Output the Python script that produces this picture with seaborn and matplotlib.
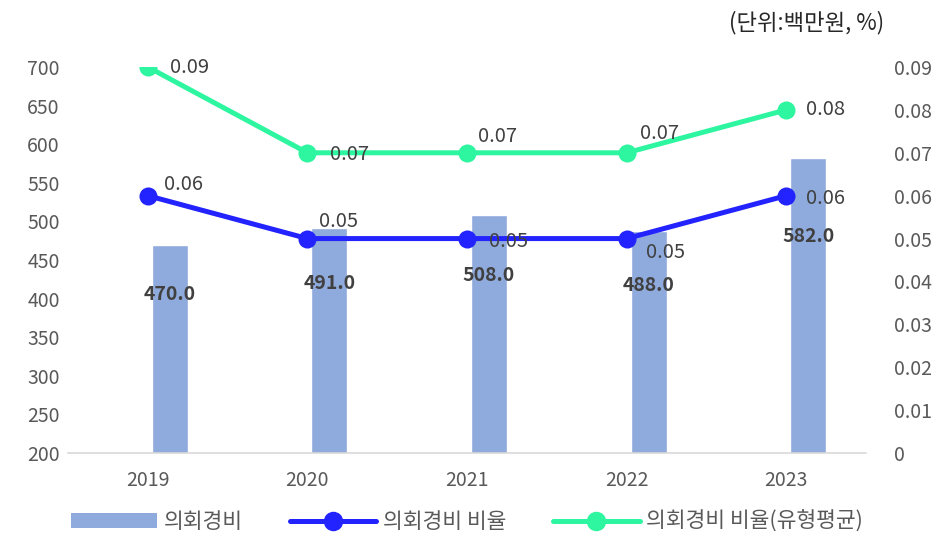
import numpy as np
import pandas as pd
import matplotlib
matplotlib.use("Agg")
import matplotlib.pyplot as plt
import seaborn as sns
from matplotlib.lines import Line2D
from matplotlib.patches import Patch

# chart data
years = ["2019", "2020", "2021", "2022", "2023"]
cost = [470.0, 491.0, 508.0, 488.0, 582.0]          # 의회경비 (백만원)
ratio = [0.06, 0.05, 0.05, 0.05, 0.06]              # 의회경비 비율
ratio_avg = [0.09, 0.07, 0.07, 0.07, 0.08]          # 의회경비 비율(유형평균)

sns.set_style("white")
plt.rcParams["font.family"] = ["Noto Sans CJK KR", "DejaVu Sans"]

BAR = "#8FAADC"
BLUE = "#2323FF"
GREEN = "#2EF5A0"
TXT = "#595959"

fig = plt.figure(figsize=(9.34, 5.37), dpi=100)
ax = fig.add_axes([0.0728, 0.1564, 0.8544, 0.7188])

# empty first series keeps the bars on the right half of each slot, like the original
df = pd.DataFrame({
    "year": years * 2,
    "value": [0.0] * len(years) + cost,
    "series": ["blank"] * len(years) + ["의회경비"] * len(years),
})
sns.barplot(data=df, x="year", y="value", hue="series", palette=["#FFFFFF", BAR],
            saturation=1, width=0.55, gap=0.18, legend=False, ax=ax)
ax.set_ylim(200, 700)
ax.set_xlim(-0.5, 4.5)
ax.set_yticks(range(200, 701, 50))
ax.set_xlabel("")
ax.set_ylabel("")
for s in ["top", "right", "left"]:
    ax.spines[s].set_visible(False)
ax.spines["bottom"].set_color("#D9D9D9")
ax.spines["bottom"].set_linewidth(1.2)
ax.tick_params(axis="both", length=0, labelsize=14, colors=TXT)
ax.tick_params(axis="x", pad=12)
ax.tick_params(axis="y", pad=6)

# bar labels (bold, inside bar)
for i, v in enumerate(cost):
    ax.text(i + 0.1375, 0.67 * v + 90, f"{v:.1f}", ha="center", va="center",
            fontsize=14, fontweight="bold", color="#404040", zorder=5)

# lines on the right axis
ax2 = ax.twinx()
x = np.arange(len(years))
sns.lineplot(x=x, y=ratio_avg, color=GREEN, linewidth=3.6, marker="o",
             markersize=13, markeredgewidth=0, ax=ax2)
sns.lineplot(x=x, y=ratio, color=BLUE, linewidth=3.6, marker="o",
             markersize=13, markeredgewidth=0, ax=ax2)
ax2.set_ylim(0, 0.09)
ax2.set_yticks(np.arange(0, 0.091, 0.01))
ax2.set_yticklabels(["0"] + [f"{t:.2f}" for t in np.arange(0.01, 0.091, 0.01)])
ax2.set_xlim(-0.5, 4.5)
for s in ["top", "right", "left", "bottom"]:
    ax2.spines[s].set_visible(False)
ax2.tick_params(axis="y", length=0, labelsize=14, colors=TXT, pad=20)

# line labels, nudged by hand (points)
blue_off = [(12, 8), (8, 12), (16, -2), (14, -10), (14, -2)]
green_off = [(16, 0), (16, -1), (8, 12), (10, 14), (14, 0)]
for i, v in enumerate(ratio):
    ax2.annotate(f"{v:.2f}", (i, v), xytext=blue_off[i], textcoords="offset points",
                 ha="left", va="center", fontsize=14.5, color="#404040")
for i, v in enumerate(ratio_avg):
    ax2.annotate(f"{v:.2f}", (i, v), xytext=green_off[i], textcoords="offset points",
                 ha="left", va="center", fontsize=14.5, color="#404040")

fig.text(0.947, 0.958, "(단위:백만원, %)", ha="right", va="center", fontsize=16, color="#262626")

handles = [
    Patch(facecolor=BAR, edgecolor="none"),
    Line2D([0], [0], color=BLUE, linewidth=3.6, marker="o", markersize=13),
    Line2D([0], [0], color=GREEN, linewidth=3.6, marker="o", markersize=13),
]
labels = ["의회경비", "의회경비 비율", "의회경비 비율(유형평균)"]
fig.legend(handles, labels, loc="center", bbox_to_anchor=(0.5, 0.028), ncol=3,
           frameon=False, fontsize=15.5, handlelength=4.0, handletextpad=0.3,
           columnspacing=2.2, labelcolor=TXT)

fig.savefig("out.png", dpi=100)
